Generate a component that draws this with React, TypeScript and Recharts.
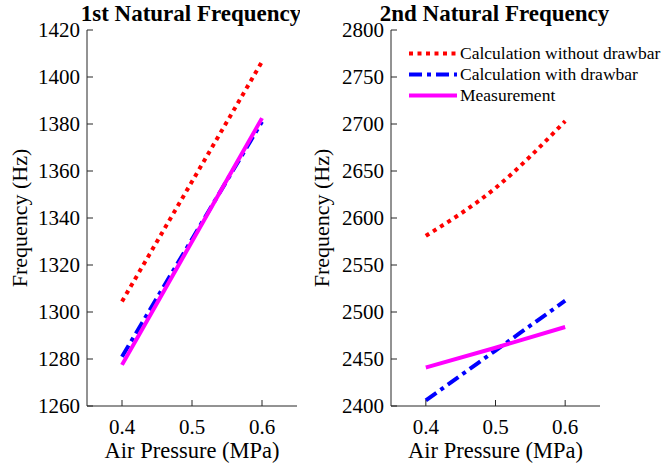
import React from 'react';
import { LineChart, Line, XAxis, YAxis } from 'recharts';

const pressures = [0.4, 0.5, 0.6];
const xTicks = [0.4, 0.5, 0.6];

const f1WithoutDrawbar = [1304.5, 1355.5, 1406.5];
const f1WithDrawbar = [1281, 1331, 1381];
const f1Measurement = [1277.5, 1330, 1382.5];
const f1Ticks = [1260, 1280, 1300, 1320, 1340, 1360, 1380, 1400, 1420];

const f2WithoutDrawbar = [2581, 2632, 2703];
const f2WithDrawbar = [2406, 2459, 2512];
const f2Measurement = [2441, 2462, 2484];
const f2Ticks = [2400, 2450, 2500, 2550, 2600, 2650, 2700, 2750, 2800];

const seriesNames = ['Calculation without drawbar', 'Calculation with drawbar', 'Measurement'];
const seriesColors = ['#ff0000', '#0000ff', '#ff00ff'];
const seriesDash = ['4 4.5', '13 5 4 5', undefined];

const FONT = '"Liberation Serif", "Times New Roman", serif';
const AXIS = '#262626';

const build = (a: number[], b: number[], c: number[]) =>
  pressures.map((p, i) => ({ p, a: a[i], b: b[i], c: c[i] }));

const data1 = build(f1WithoutDrawbar, f1WithDrawbar, f1Measurement);
const data2 = build(f2WithoutDrawbar, f2WithDrawbar, f2Measurement);

const TickText = (props: any) => {
  const { x, y, payload, textAnchor, verticalAnchor } = props;
  const dy = verticalAnchor === 'start' ? '0.71em' : verticalAnchor === 'end' ? '0' : '0.355em';
  return (
    <text x={x} y={y} dy={dy} textAnchor={textAnchor} style={{ fontSize: 21, fontFamily: FONT, fill: '#000' }}>
      {payload.value}
    </text>
  );
};

const LegendBox = ({ left, top }: { left: number; top: number }) => (
  <div
    style={{
      position: 'absolute',
      left,
      top,
      background: '#fff',
      width: 264,
      height: 75,
      fontFamily: FONT,
      fontSize: 17.5,
      color: '#000',
    }}
  >
    {seriesNames.map((n, i) => (
      <div key={n} style={{ position: 'absolute', left: 8, top: 11 + i * 21, height: 21, display: 'flex', alignItems: 'center', whiteSpace: 'nowrap' }}>
        <svg width={50} height={21} style={{ display: 'block' }}>
          <line x1={1} x2={49} y1={10.5} y2={10.5} stroke={seriesColors[i]} strokeWidth={4} strokeDasharray={seriesDash[i]} />
        </svg>
        <span style={{ marginLeft: 2, lineHeight: '21px' }}>{n}</span>
      </div>
    ))}
  </div>
);

type PanelProps = {
  data: any[];
  title: string;
  yTicks: number[];
  yDomain: [number, number];
  left: number;
  width: number;
  yAxisWidth: number;
  marginLeft: number;
  marginRight: number;
  yLabelX: number;
};

const Panel = ({ data, title, yTicks, yDomain, left, width, yAxisWidth, marginLeft, marginRight, yLabelX }: PanelProps) => {
  const plotLeft = marginLeft + yAxisWidth;
  const plotRight = width - marginRight;
  const cx = (plotLeft + plotRight) / 2;
  return (
    <div style={{ position: 'absolute', left, top: 0, fontFamily: FONT }}>
      <LineChart width={width} height={468} data={data} margin={{ top: 30, right: marginRight, bottom: 12, left: marginLeft }} style={{ fontFamily: FONT }}>
        <XAxis
          xAxisId="bottom"
          dataKey="p"
          type="number"
          domain={[0.35, 0.65]}
          ticks={xTicks}
          allowDataOverflow
          height={50}
          tickSize={-6}
          tickMargin={19}
          stroke={AXIS}
          tick={<TickText />}
        />
        <XAxis
          xAxisId="top"
          orientation="top"
          dataKey="p"
          type="number"
          domain={[0.35, 0.65]}
          ticks={xTicks}
          height={0}
          mirror
          tickSize={6}
          tickFormatter={() => ''}
          stroke={AXIS}
        />
        <YAxis
          yAxisId="left"
          type="number"
          domain={yDomain}
          ticks={yTicks}
          width={yAxisWidth}
          tickSize={-6}
          tickMargin={13}
          stroke={AXIS}
          tick={<TickText />}
          interval={0}
        />
        <YAxis
          yAxisId="right"
          orientation="right"
          type="number"
          domain={yDomain}
          ticks={yTicks}
          width={0}
          mirror
          tickSize={6}
          tickFormatter={() => ''}
          stroke={AXIS}
        />
        {['a', 'b', 'c'].map((k, i) => (
          <Line
            key={k}
            xAxisId="bottom"
            yAxisId="left"
            dataKey={k}
            name={seriesNames[i]}
            stroke={seriesColors[i]}
            strokeWidth={4}
            strokeDasharray={seriesDash[i]}
            dot={false}
            activeDot={false}
            isAnimationActive={false}
            type="monotone"
          />
        ))}
        <text x={cx - 1} y={21} textAnchor="middle" style={{ fontSize: 23, fontWeight: 'bold', fontFamily: FONT, fill: '#000' }}>
          {title}
        </text>
        <text x={cx} y={458} textAnchor="middle" style={{ fontSize: 22.5, fontFamily: FONT, fill: '#000' }}>
          Air Pressure (MPa)
        </text>
        <text
          transform={`translate(${yLabelX}, 218) rotate(-90)`}
          textAnchor="middle"
          style={{ fontSize: 22, fontFamily: FONT, fill: '#000' }}
        >
          Frequency (Hz)
        </text>
      </LineChart>
    </div>
  );
};

export default function App() {
  return (
    <div style={{ position: 'absolute', left: 0, top: 0, width: 664, height: 468, background: '#fff', overflow: 'hidden', fontFamily: FONT }}>
      <Panel data={data1} title="1st Natural Frequency" yTicks={f1Ticks} yDomain={[1260, 1420]} left={0} width={300} yAxisWidth={60} marginLeft={27} marginRight={3} yLabelX={27} />
      <Panel data={data2} title="2nd Natural Frequency" yTicks={f2Ticks} yDomain={[2400, 2800]} left={300} width={364} yAxisWidth={50} marginLeft={41} marginRight={64} yLabelX={29} />
      <LegendBox left={400} top={32} />
    </div>
  );
}
